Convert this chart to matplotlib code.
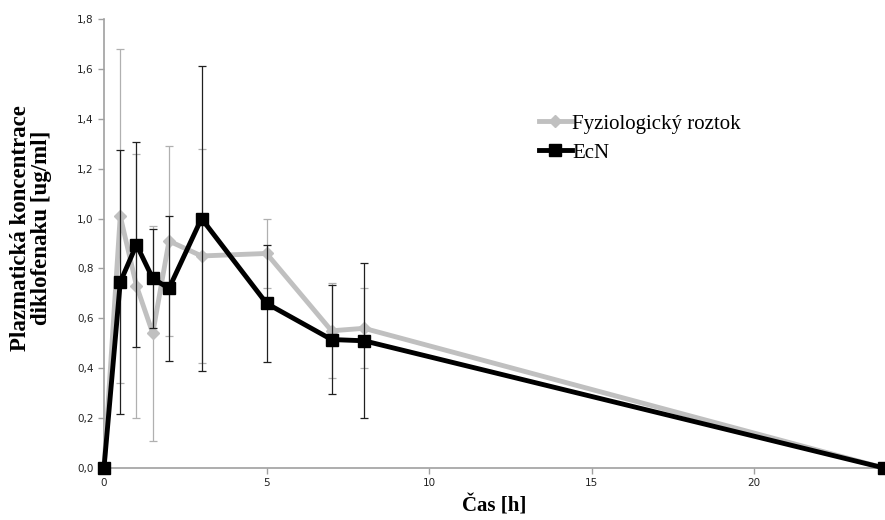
import numpy as np
import matplotlib
matplotlib.use("Agg")
import matplotlib.pyplot as plt
from matplotlib.lines import Line2D
from matplotlib.ticker import FuncFormatter

cas = [0, 0.5, 1, 1.5, 2, 3, 5, 7, 8, 24]
fyz = [0, 1.01, 0.73, 0.54, 0.91, 0.85, 0.86, 0.55, 0.56, 0]
fyz_sd = [0, 0.67, 0.53, 0.43, 0.38, 0.43, 0.14, 0.19, 0.16, 0]
ecn = [0, 0.745, 0.895, 0.76, 0.72, 1.00, 0.66, 0.515, 0.51, 0]
ecn_sd = [0, 0.53, 0.41, 0.20, 0.29, 0.61, 0.235, 0.22, 0.31, 0]

serif = "Liberation Serif"
gray = "#c0c0c0"

fig = plt.figure(figsize=(8.85, 5.2), dpi=100, facecolor="white")
ax = fig.add_axes([0.1175, 0.1, 0.8815, 0.8635])

ax.errorbar(cas, fyz, yerr=fyz_sd, color=gray, lw=3.5, marker="D", ms=6,
            mec=gray, mfc=gray, ecolor="#b0b0b0", elinewidth=0.9, capsize=3,
            capthick=0.9, zorder=3, clip_on=False)
ax.errorbar(cas, ecn, yerr=ecn_sd, color="black", lw=3.5, marker="s", ms=9,
            mec="black", mfc="black", ecolor="#202020", elinewidth=0.9, capsize=3,
            capthick=0.9, zorder=4, clip_on=False)

ax.set_xlim(0, 24)
ax.set_ylim(0, 1.8)
ax.set_xticks([0, 5, 10, 15, 20])
ax.set_yticks(np.arange(0, 1.81, 0.2))
ax.yaxis.set_major_formatter(FuncFormatter(lambda v, p: f"{v:.1f}".replace(".", ",")))

for s in ["top", "right"]:
    ax.spines[s].set_visible(False)
for s in ["left", "bottom"]:
    ax.spines[s].set_color("#a0a0a0")
    ax.spines[s].set_linewidth(1.2)
ax.tick_params(axis="both", colors="#a0a0a0", labelcolor="#222222", labelsize=7.5,
               length=4, width=1)

ax.set_xlabel("Čas [h]", family=serif, fontsize=15, fontweight="bold", labelpad=5)
ax.set_ylabel("Plazmatická koncentrace\ndiklofenaku [ug/ml]", family=serif,
              fontsize=16.5, fontweight="bold", linespacing=1.0)
ax.yaxis.set_label_coords(-0.066, 0.535)

handles = [
    Line2D([], [], color=gray, lw=3.5, marker="D", ms=6, mec=gray, mfc=gray),
    Line2D([], [], color="black", lw=3.5, marker="s", ms=9, mec="black", mfc="black"),
]
ax.legend(handles, ["Fyziologický roztok", "EcN"], loc="upper left",
          bbox_to_anchor=(0.533, 0.83), frameon=False,
          prop={"family": serif, "size": 15}, handlelength=1.6,
          handletextpad=0.0, labelspacing=0.45)

fig.savefig("out.png", dpi=100)
